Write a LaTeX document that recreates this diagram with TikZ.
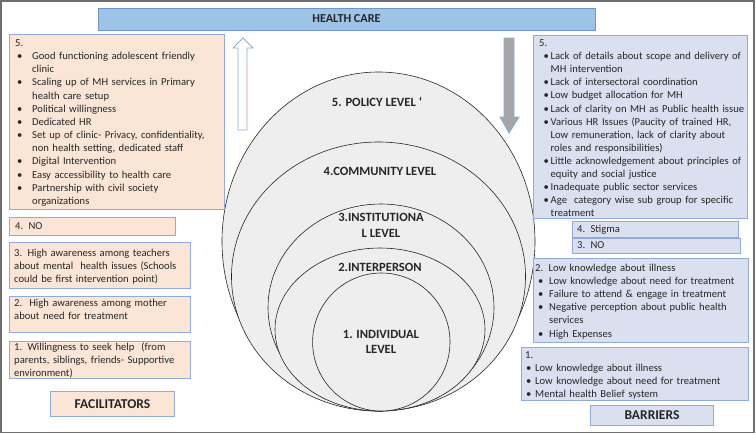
\documentclass[tikz,border=0pt]{standalone}
\usepackage{fontspec}
\setmainfont{Carlito}
\definecolor{peach}{HTML}{FBE5D6}
\definecolor{bluegray}{HTML}{DAE0EF}
\definecolor{bordc}{HTML}{8FAADC}
\definecolor{barfill}{HTML}{9DC3E6}
\definecolor{barbord}{HTML}{6F95CC}
\definecolor{ellfill}{HTML}{EEEEEE}
\definecolor{txtc}{HTML}{262626}
\definecolor{framec}{HTML}{6E6E6E}
\definecolor{arrfill}{HTML}{A6A6A6}
\newcommand\bu[2]{\makebox[#2pt][l]{\hspace*{#1pt}\textbullet}}
\newcommand\ind[1]{\hspace*{#1pt}}
\tikzset{
  lbox/.style={draw=bordc, fill=peach, line width=0.9pt, inner sep=0pt, anchor=north west},
  rbox/.style={draw=bordc, fill=bluegray, line width=0.9pt, inner sep=0pt, anchor=north west},
  ltxt/.style={inner sep=0pt, anchor=base west, align=left, text width=260pt, text=txtc,
    font=\fontsize{10.6}{13.15}\selectfont},
  rtxt/.style={inner sep=0pt, anchor=base west, align=left, text width=260pt, text=txtc,
    font=\fontsize{10.6}{13.1}\selectfont},
  title/.style={inner sep=0pt, text=txtc, font=\fontsize{13.5}{15}\selectfont\bfseries},
  lvl/.style={draw=black!85, fill=ellfill, line width=0.6pt},
  lvltxt/.style={inner sep=0pt, align=center, text=txtc, font=\fontsize{12.6}{16}\selectfont\bfseries},
}
\begin{document}
\begin{tikzpicture}[x=1pt, y=-1pt]
\useasboundingbox (0,0) rectangle (756,434);
\draw[framec, line width=1.6pt] (1,1) rectangle (754,432.5);
% health care bar
\node[draw=barbord, fill=barfill, line width=0.9pt, minimum width=497pt, minimum height=22pt, inner sep=0pt,
  text=txtc, font=\fontsize{12.2}{13}\selectfont\bfseries] (hc) at (346.5,19) {HEALTH CARE};
% ellipses
\path[lvl] (378.5,241.5) ellipse [x radius=156.5, y radius=169.5];
\path[lvl] (378.5,276.5) ellipse [x radius=147, y radius=134.5];
\path[lvl] (381,307.5) ellipse [x radius=113, y radius=103.5];
\path[lvl] (380,329.5) ellipse [x radius=105, y radius=81.5];
\path[lvl] (381.3,342) ellipse [x radius=68.7, y radius=69];
\node[lvltxt] (l5) at (377,102) {5. POLICY LEVEL {\char"60}};
\node[lvltxt] (l4) at (380,171) {4.COMMUNITY LEVEL};
\node[lvltxt] (l3) at (381,225) {3.INSTITUTIONA\\L LEVEL};
\node[lvltxt] (l2) at (380,267) {2.INTERPERSON};
\node[lvltxt, font=\fontsize{12.6}{14.5}\selectfont\bfseries] (l1) at (381,342) {1. INDIVIDUAL\\LEVEL};
% arrows
\draw[bordc, fill=white, line width=0.9pt] (238,130) -- (238,48) -- (233,48) -- (243,38) -- (253,48) -- (247,48) -- (247,130) -- cycle;
\draw[bordc, fill=arrfill, line width=0.9pt] (504,38) -- (514,38) -- (514,117) -- (519,117) -- (509,133) -- (500,117) -- (504,117) -- cycle;
% facilitators
\node[lbox, minimum width=215pt, minimum height=175pt] (f5) at (9,34) {};
\node[ltxt] (f5t) at (15,46.5) {5.\\
\bu{2}{17}Good functioning adolescent friendly\\
\ind{17}clinic\\
\bu{2}{17}Scaling up of MH services in Primary\\
\ind{17}health care setup\\
\bu{2}{17}Political willingness\\
\bu{2}{17}Dedicated HR\\
\bu{2}{17}Set up of clinic- Privacy, confidentiality,\\
\ind{17}non health setting, dedicated staff\\
\bu{2}{17}Digital Intervention\\
\bu{2}{17}Easy accessibility to health care\\
\bu{2}{17}Partnership with civil society\\
\ind{17}organizations};
\node[lbox, minimum width=166pt, minimum height=18pt] (f4) at (9,217) {};
\node[ltxt] (f4t) at (15,229.5) {4. NO};
\node[lbox, minimum width=181pt, minimum height=46pt] (f3) at (9,242) {};
\node[ltxt] (f3t) at (14,256.5) {3. High awareness among teachers\\about mental\ \ health issues (Schools\\could be first intervention point)};
\node[lbox, minimum width=181pt, minimum height=36pt] (f2) at (9,296) {};
\node[ltxt] (f2t) at (14,306.5) {2.\ \ High awareness among mother\\about need for treatment};
\node[lbox, minimum width=181pt, minimum height=37pt] (f1) at (9,341) {};
\node[ltxt] (f1t) at (14,350.5) {1. Willingness to seek help\ \ (from\\parents, siblings, friends- Supportive\\environment)};
\node[lbox, minimum width=124pt, minimum height=25pt] (fac) at (50,391) {};
\node[title] (fact) at (fac.center) {FACILITATORS};
% barriers
\node[rbox, minimum width=214pt, minimum height=183pt] (b5) at (533,35) {};
\node[rtxt] (b5t) at (539,46.5) {5.\\
\bu{4.5}{11.5}Lack of details about scope and delivery of\\
\ind{11.5}MH intervention\\
\bu{4.5}{11.5}Lack of intersectoral coordination\\
\bu{4.5}{11.5}Low budget allocation for MH\\
\bu{4.5}{11.5}Lack of clarity on MH as Public health issue\\
\bu{4.5}{11.5}Various HR Issues (Paucity of trained HR,\\
\ind{11.5}Low remuneration, lack of clarity about\\
\ind{11.5}roles and responsibilities)\\
\bu{4.5}{11.5}Little acknowledgement about principles of\\
\ind{11.5}equity and social justice\\
\bu{4.5}{11.5}Inadequate public sector services\\
\bu{4.5}{11.5}Age\ \ category wise sub group for specific\\
\ind{11.5}treatment};
\node[rbox, minimum width=166pt, minimum height=16pt] (b4) at (572,221) {};
\node[rtxt] (b4t) at (577,232.5) {4. Stigma};
\node[rbox, minimum width=168pt, minimum height=15pt] (b3) at (572,238) {};
\node[rtxt] (b3t) at (577,248.5) {3. NO};
\node[rbox, minimum width=215pt, minimum height=84pt] (b2) at (533,258) {};
\node[rtxt] (b2t) at (535,271.5) {2. Low knowledge about illness\\
\bu{3}{14}Low knowledge about need for treatment\\
\bu{3}{14}Failure to attend \& engage in treatment\\
\bu{3}{14}Negative perception about public health\\
\ind{14}services\\
\bu{3}{14}High Expenses};
\node[rbox, minimum width=227pt, minimum height=53pt] (b1) at (521,347) {};
\node[rtxt] (b1t) at (525,358.5) {1.\\
\bu{1}{10}Low knowledge about illness\\
\bu{1}{10}Low knowledge about need for treatment\\
\bu{1}{10}Mental health Belief system};
\node[rbox, minimum width=123pt, minimum height=20pt] (bar) at (590,405) {};
\node[title] (bart) at (bar.center) {BARRIERS};
\end{tikzpicture}
\end{document}
